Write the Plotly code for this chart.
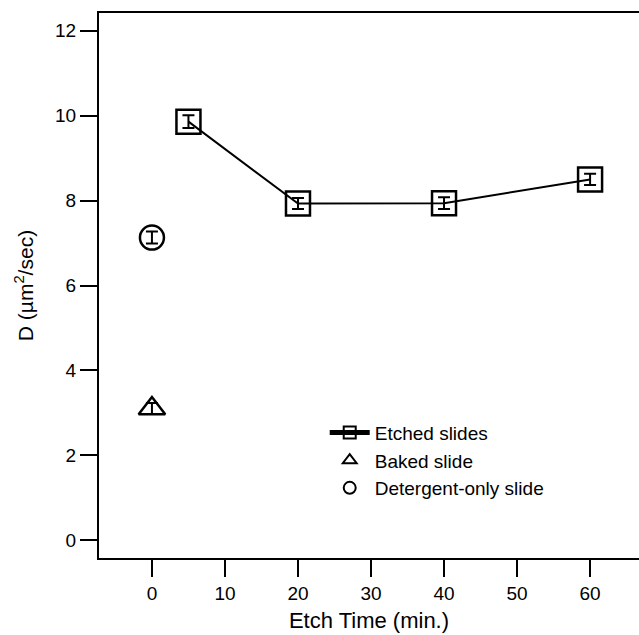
import plotly.graph_objects as go

etch_x = [5, 20, 40, 60]
etch_y = [9.86, 7.93, 7.94, 8.50]
etch_err = [0.15, 0.13, 0.14, 0.13]

baked_x = [0]
baked_y = [3.10]
baked_err = [0.13]

det_x = [0]
det_y = [7.13]
det_err = [0.14]

font = "Liberation Sans, Arial, sans-serif"
fig = go.Figure()

def err(v):
    return dict(type="data", array=v, visible=True, color="black", thickness=2, width=6)

fig.add_trace(go.Scatter(x=etch_x, y=etch_y, mode="lines+markers", error_y=err(etch_err),
                         line=dict(color="black", width=2),
                         marker=dict(symbol="square-open", size=24, color="black", line=dict(width=2.5)),
                         showlegend=False))
fig.add_trace(go.Scatter(x=baked_x, y=baked_y, mode="markers", error_y=err(baked_err),
                         marker=dict(symbol="triangle-up-open", size=23, color="black", line=dict(width=2.5)),
                         showlegend=False))
fig.add_trace(go.Scatter(x=det_x, y=det_y, mode="markers", error_y=err(det_err),
                         marker=dict(symbol="circle-open", size=24, color="black", line=dict(width=2.5)),
                         showlegend=False))

# legend entries
fig.add_trace(go.Scatter(x=[None], y=[None], mode="lines+markers", name="Etched slides",
                         line=dict(color="black", width=1.5),
                         marker=dict(symbol="square-open", size=9, color="black", line=dict(width=2))))
fig.add_trace(go.Scatter(x=[None], y=[None], mode="markers", name="Baked slide",
                         marker=dict(symbol="triangle-up-open", size=9, color="black", line=dict(width=2))))
fig.add_trace(go.Scatter(x=[None], y=[None], mode="markers", name="Detergent-only slide",
                         marker=dict(symbol="circle-open", size=9, color="black", line=dict(width=2))))

fig.update_layout(
    width=639, height=635,
    margin=dict(l=99, r=0, t=13, b=77),
    paper_bgcolor="white", plot_bgcolor="white",
    font=dict(family=font, size=19, color="black"),
    legend=dict(x=0.418, y=0.265, xanchor="left", yanchor="top", bgcolor="rgba(0,0,0,0)",
                font=dict(size=19), itemsizing="constant", itemwidth=40, tracegroupgap=0),
    xaxis=dict(range=[-7.25, 66.7], tickvals=[0, 10, 20, 30, 40, 50, 60], ticks="outside",
               ticklen=17, tickwidth=2, tickcolor="black", showline=True, linewidth=2,
               linecolor="black", mirror=True, showgrid=False, zeroline=False,
               title=dict(text="Etch Time (min.)", font=dict(size=22), standoff=10)),
    yaxis=dict(range=[-0.42, 12.42], tickvals=[0, 2, 4, 6, 8, 10, 12], ticks="outside",
               ticklen=17, tickwidth=2, tickcolor="black", showline=True, linewidth=2,
               linecolor="black", showgrid=False, zeroline=False,
               title=dict(text="D (µm<sup>2</sup>/sec)", font=dict(size=21), standoff=16)),
)

fig.write_html("out.html", config={"displayModeBar": False},
               post_script="document.body.style.margin='0';document.body.style.overflow='hidden';")
